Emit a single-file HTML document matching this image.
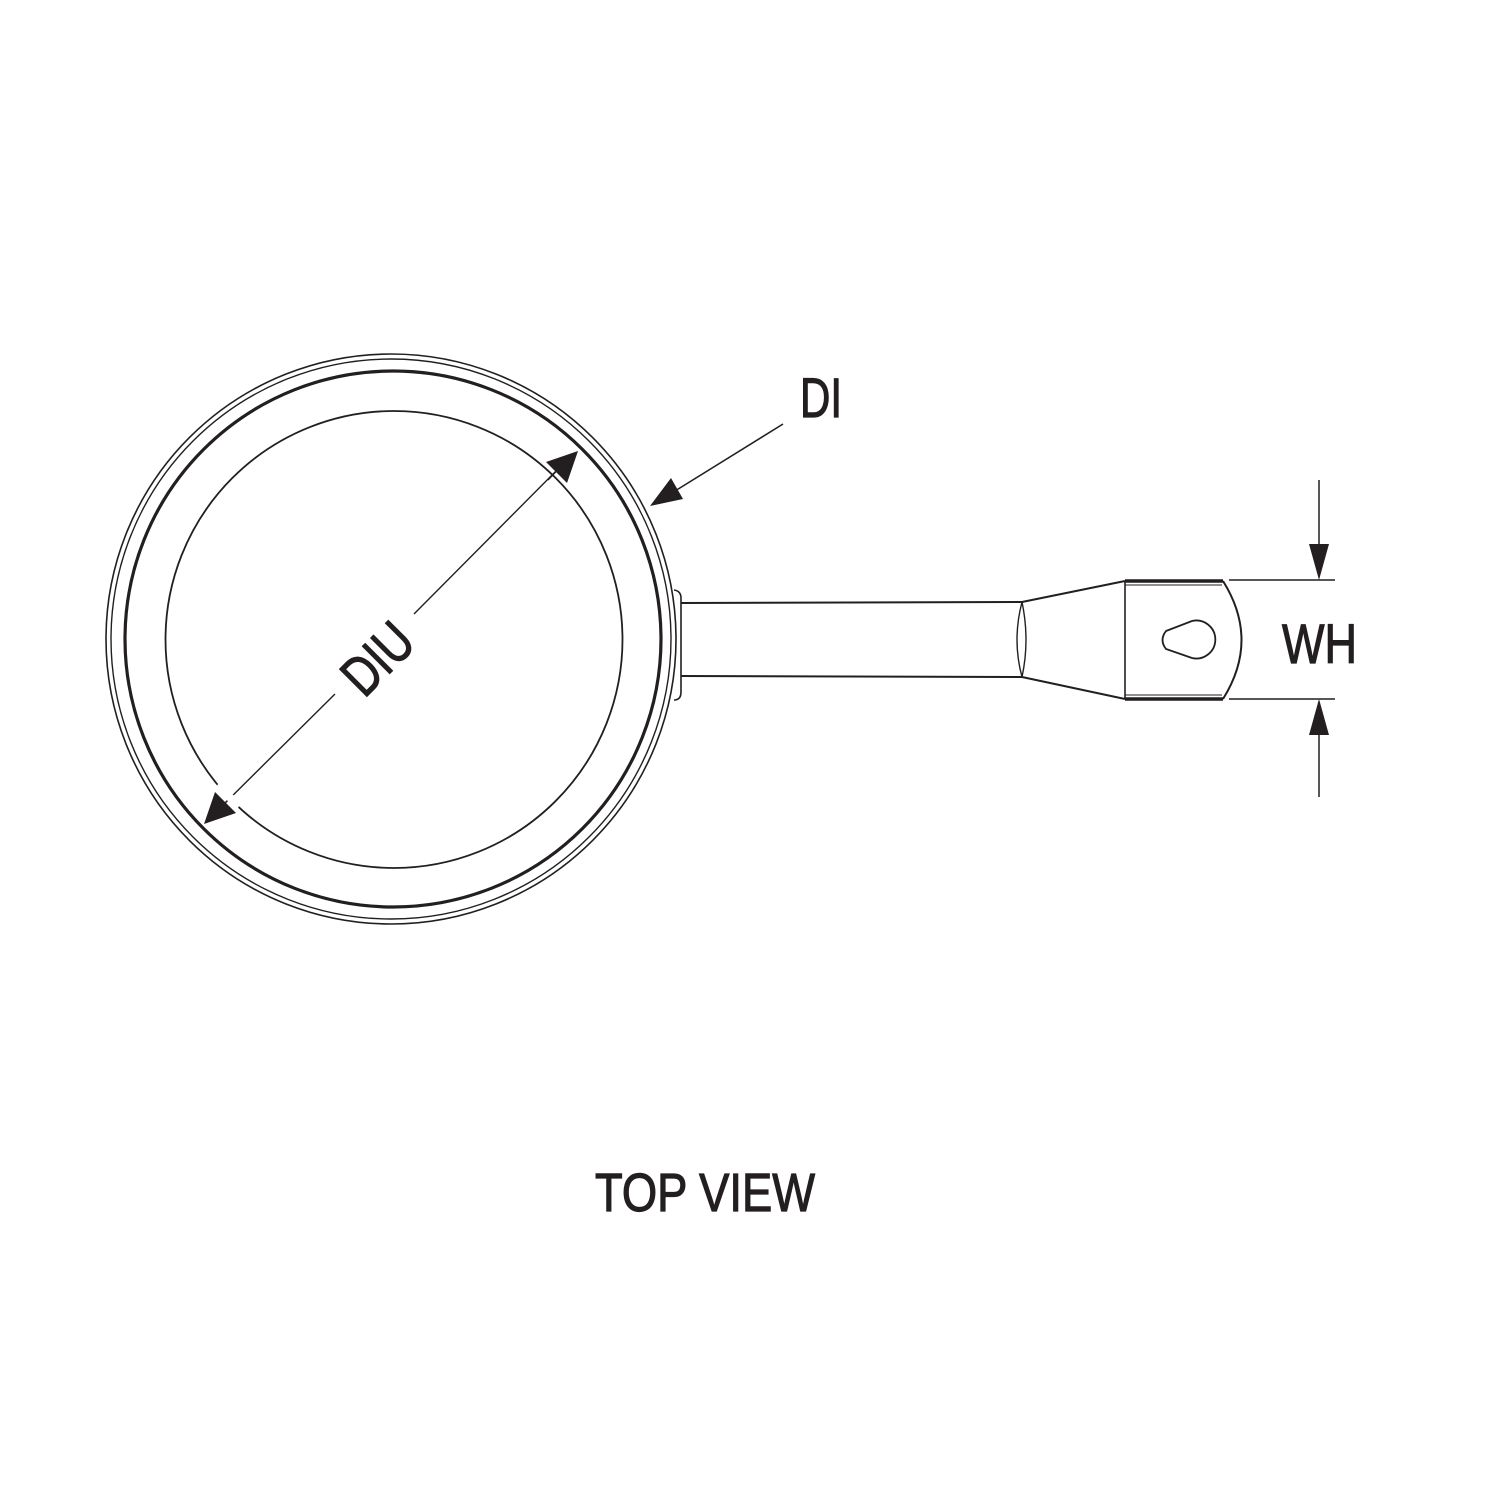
<!DOCTYPE html>
<html><head><style>html,body{margin:0;padding:0;background:#fff}svg{display:block}</style></head>
<body>
<svg width="1500" height="1500" viewBox="0 0 1500 1500" xmlns="http://www.w3.org/2000/svg">
<rect width="1500" height="1500" fill="#fff"/>
<g fill="none" stroke="#231f20">
  <circle cx="391" cy="639" r="285" stroke-width="1.6"/>
  <circle cx="391" cy="639" r="280" stroke-width="1.4"/>
  <circle cx="393" cy="639" r="268" stroke-width="3.2"/>
  <circle cx="394" cy="639.5" r="228.5" stroke-width="1.8"/>
  <path d="M674 590 Q681 591 681 598 L681 692 Q681 700 674 700" stroke-width="1.6"/>
  <path d="M681 603 L1022 602 M681 676 L1022 677" stroke-width="2"/>
  <path d="M1022 602 Q1012 640 1022 677 M1022 602 Q1030 640 1022 677" stroke-width="1.4"/>
  <path d="M1022 602 L1125 581 M1022 677 L1125 699" stroke-width="2"/>
  <path d="M1125 581 L1125 699" stroke-width="1.6"/>
  <path d="M1125 581 L1223 581 M1125 699 L1223 699" stroke-width="3.5"/>
  <path d="M1125 585 L1222 585 M1125 695 L1222 695" stroke-width="1"/>
  <path d="M1223 581 Q1260 640 1223 699" stroke-width="2"/>
  <path d="M1166 631 L1192 621 A19 19 0 1 1 1192 658 L1166 649 Q1159 640 1166 631 Z" stroke-width="1.8"/>
  <path d="M1229 580 L1335 580 M1229 699 L1335 699" stroke-width="1.5"/>
  <path d="M1319 480 L1319 550 M1319 729 L1319 797" stroke-width="1.5"/>
  <path d="M783 424 L675 491" stroke-width="1.6"/>
  <path d="M565 462 L414 614 M335 694 L214 814" stroke-width="1.4"/>
</g>
<path d="M542 451 L565 476" stroke="#fff" stroke-width="8"/>
<path d="M216 787 L240 805" stroke="#fff" stroke-width="8"/>
<path d="M565 462 L548 480 M227 801 L214 814" stroke="#231f20" stroke-width="1.4"/>
<g fill="#231f20">
  <path d="M1319 580 L1309 544 L1329 544 Z"/>
  <path d="M1319 699 L1309 735 L1329 735 Z"/>
  <path d="M650 506 L671 478 L683 499 Z"/>
  <path d="M578 451 L567 483 L546 462 Z"/>
  <path d="M204 824 L215 792 L236 813 Z"/>
</g>
<g fill="#231f20" stroke="#231f20" stroke-width="1.2" font-family="'Liberation Sans', sans-serif" font-size="56">
  <text x="800" y="417" textLength="42" lengthAdjust="spacingAndGlyphs">DI</text>
  <text x="1282" y="663" textLength="75" lengthAdjust="spacingAndGlyphs">WH</text>
  <text transform="translate(377 658) rotate(-45)" x="-38" y="20" textLength="76" lengthAdjust="spacingAndGlyphs">DIU</text>
  <text x="595" y="1211" font-size="54" textLength="220" lengthAdjust="spacingAndGlyphs">TOP VIEW</text>
</g>
</svg>
</body></html>
